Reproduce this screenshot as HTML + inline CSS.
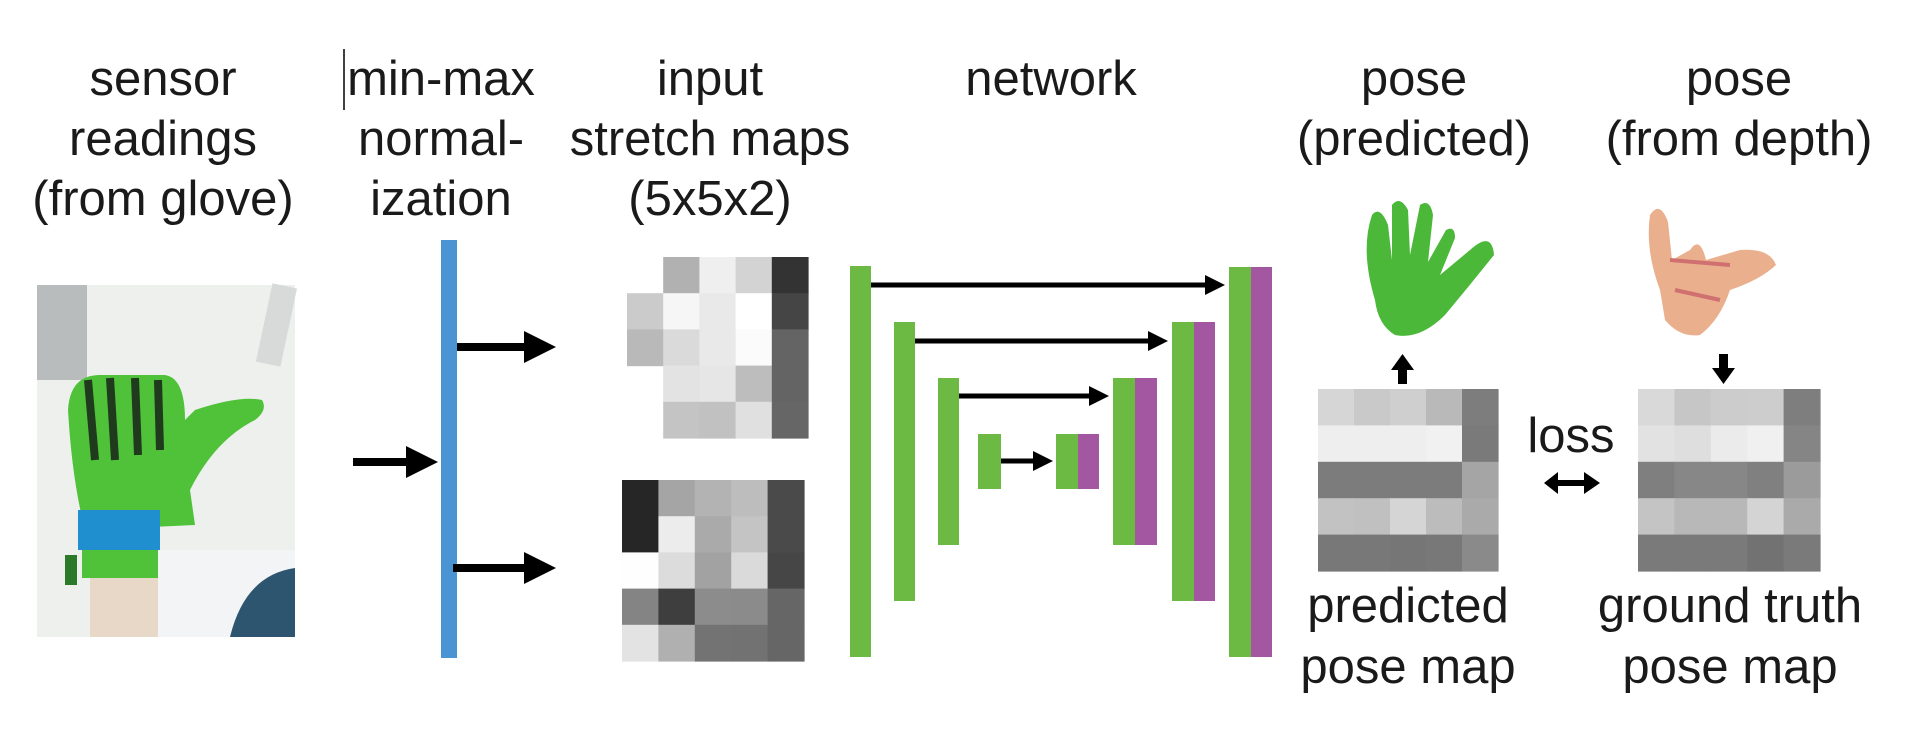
<!DOCTYPE html>
<html><head><meta charset="utf-8"><style>
html,body{margin:0;padding:0;background:#fff;width:1920px;height:752px;overflow:hidden}
svg text{font-family:"Liberation Sans",Arial,sans-serif;font-size:49px;fill:#1a1a1a;text-anchor:middle}
</style></head><body>
<svg id="s" width="1920" height="752" viewBox="0 0 1920 752" xmlns="http://www.w3.org/2000/svg">
<defs>
<marker id="ah" markerWidth="4" markerHeight="4" refX="3" refY="2" orient="auto" markerUnits="strokeWidth"><path d="M0,0 L4,2 L0,4 z" fill="#000"/></marker>
</defs>
<text x="163" y="95">sensor</text><text x="163" y="155">readings</text><text x="163" y="215">(from glove)</text>
<line x1="344" y1="49" x2="344" y2="110" stroke="#000" stroke-width="1.5"/>
<text x="441" y="95">min-max</text><text x="441" y="155">normal-</text><text x="441" y="215">ization</text>
<text x="710" y="95">input</text><text x="710" y="155">stretch maps</text><text x="710" y="215">(5x5x2)</text>
<text x="1051" y="95">network</text>
<text x="1414" y="95">pose</text><text x="1414" y="155">(predicted)</text>
<text x="1739" y="95">pose</text><text x="1739" y="155">(from depth)</text>
<text x="1408" y="622">predicted</text><text x="1408" y="683">pose map</text>
<text x="1730" y="622">ground truth</text><text x="1730" y="683">pose map</text>
<text x="1571" y="452">loss</text>

<rect x="37" y="285" width="258" height="352" fill="#eef0ee"/>
<rect x="37" y="285" width="50" height="95" fill="#b8bcbc"/>
<rect x="265" y="285" width="25" height="80" fill="#d8dada" transform="rotate(12 277 320)"/>
<rect x="140" y="550" width="155" height="87" fill="#f2f4f6"/>
<path d="M230 637 Q245 575 295 568 L295 637 Z" fill="#2e5570"/>
<rect x="90" y="575" width="68" height="62" fill="#e8d8c8"/>
<path d="M68 410 Q70 375 100 375 L165 375 Q185 378 185 420 L195 410 Q240 395 262 400 Q268 410 255 420 Q215 440 190 490 L195 525 L85 530 Q72 480 68 410 Z" fill="#4fc23a"/>
<path d="M88 380 L95 460 M110 378 L115 460 M135 378 L138 455 M158 380 L160 450" stroke="#1f3a1c" stroke-width="8" fill="none"/>
<rect x="78" y="510" width="82" height="40" fill="#1f8fd0"/>
<rect x="82" y="550" width="76" height="28" fill="#4fc23a"/>
<rect x="65" y="555" width="12" height="30" fill="#2a7a2a"/>

<rect x="441" y="240" width="16" height="418" fill="#4a94d4"/>
<line x1="353" y1="462" x2="430" y2="462" stroke="#000" stroke-width="8" marker-end="url(#ah)"/>
<line x1="457" y1="347" x2="548" y2="347" stroke="#000" stroke-width="8" marker-end="url(#ah)"/>
<line x1="453" y1="568" x2="548" y2="568" stroke="#000" stroke-width="8" marker-end="url(#ah)"/>

<g fill="#6cb944">
<rect x="850" y="266" width="21" height="391"/>
<rect x="894" y="322" width="21" height="279"/>
<rect x="938" y="378" width="21" height="167"/>
<rect x="978" y="434" width="23" height="55"/>
<rect x="1056" y="434" width="22" height="55"/>
<rect x="1113" y="378" width="22" height="167"/>
<rect x="1172" y="322" width="22" height="279"/>
<rect x="1229" y="267" width="22" height="390"/>
</g>
<g fill="#a257a0">
<rect x="1078" y="434" width="21" height="55"/>
<rect x="1135" y="378" width="22" height="167"/>
<rect x="1194" y="322" width="21" height="279"/>
<rect x="1251" y="267" width="21" height="390"/>
</g>
<g stroke="#000" stroke-width="5" marker-end="url(#ah)">
<line x1="871" y1="285" x2="1220" y2="285"/>
<line x1="915" y1="341" x2="1163" y2="341"/>
<line x1="959" y1="396" x2="1104" y2="396"/>
<line x1="1001" y1="461" x2="1048" y2="461"/>
</g>

<path d="M1375 300 Q1360 250 1372 215 Q1380 205 1388 225 L1392 260 L1392 205 Q1400 195 1408 210 L1410 255 L1420 205 Q1430 198 1433 215 L1428 262 L1446 230 Q1455 225 1455 238 L1440 275 L1470 250 Q1492 230 1494 255 Q1470 285 1445 315 Q1420 340 1395 335 Q1378 325 1375 300 Z" fill="#4cb83a"/>
<path d="M1660 290 Q1645 250 1650 215 Q1660 200 1668 222 L1672 260 L1690 250 Q1700 235 1706 260 L1740 250 Q1770 248 1776 265 Q1760 280 1730 290 Q1720 320 1700 335 Q1680 338 1665 320 Z" fill="#eab08e"/>
<path d="M1670 260 L1730 265 M1675 290 L1720 300" stroke="#d07070" stroke-width="4" fill="none"/>
<rect x="1398" y="368" width="9" height="16" fill="#000"/><path d="M1391 370 L1402.5 354 L1414 370 Z" fill="#000"/>
<rect x="1719" y="354" width="9" height="16" fill="#000"/><path d="M1712 368 L1723.5 384 L1735 368 Z" fill="#000"/>
<rect x="1555" y="480" width="30" height="6" fill="#000"/>
<path d="M1544 483 L1558 472 L1558 494 Z M1600 483 L1584 472 L1584 494 Z" fill="#000"/>
<g id="grids"></g>
</svg>
<script>
var g=document.getElementById('grids');
function grid(x0,y0,cw,ch,c){for(var r=0;r<5;r++)for(var k=0;k<5;k++){var v=c[r][k];if(!v)continue;
var e=document.createElementNS('http://www.w3.org/2000/svg','rect');e.setAttribute('x',x0+k*cw);e.setAttribute('y',y0+r*ch);
e.setAttribute('width',cw+0.6);e.setAttribute('height',ch+0.6);e.setAttribute('fill',v);g.appendChild(e);}}
grid(627,257,36.2,36.2,[
[null,'#b1b1b1','#efefef','#d3d3d3','#333'],
['#cbcbcb','#f6f6f6','#e9e9e9','#fff','#454545'],
['#b9b9b9','#dadada','#e9e9e9','#fbfbfb','#646464'],
[null,'#e3e3e3','#e6e6e6','#bdbdbd','#646464'],
[null,'#c4c4c4','#c1c1c1','#e0e0e0','#666']]);
grid(622,480,36.4,36.2,[
['#262626','#a5a5a5','#b3b3b3','#bdbdbd','#4a4a4a'],
['#262626','#ececec','#aaa','#c4c4c4','#4a4a4a'],
['#fefefe','#dcdcdc','#a2a2a2','#dadada','#464646'],
['#848484','#3e3e3e','#8c8c8c','#8b8b8b','#666'],
['#e3e3e3','#b0b0b0','#737373','#727272','#666']]);
grid(1318,389,36,36.4,[
['#d6d6d6','#c9c9c9','#cfcfcf','#b9b9b9','#7d7d7d'],
['#eee','#eee','#eee','#f1f1f1','#7a7a7a'],
['#7c7c7c','#7c7c7c','#7c7c7c','#7c7c7c','#a5a5a5'],
['#c2c2c2','#c0c0c0','#d5d5d5','#bcbcbc','#aaa'],
['#787878','#787878','#767676','#787878','#8a8a8a']]);
grid(1638,389,36.4,36.4,[
['#d9d9d9','#c6c6c6','#ccc','#cdcdcd','#7e7e7e'],
['#e2e2e2','#dedede','#ebebeb','#f0f0f0','#858585'],
['#7f7f7f','#878787','#878787','#808080','#9b9b9b'],
['#c4c4c4','#b8b8b8','#b8b8b8','#d4d4d4','#aaa'],
['#7a7a7a','#7a7a7a','#7a7a7a','#727272','#7a7a7a']]);
</script>
</body></html>
